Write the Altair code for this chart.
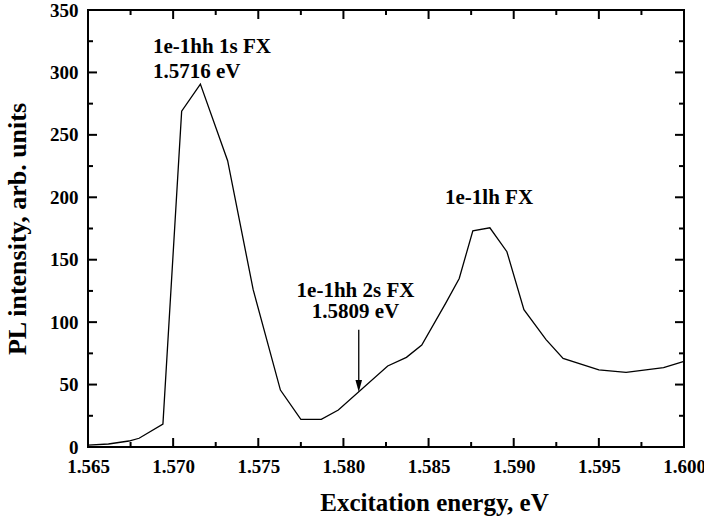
import altair as alt
import pandas as pd

# Photoluminescence excitation spectrum
energy = [1.5650, 1.5662, 1.5669, 1.5674, 1.5680, 1.5694, 1.5705, 1.5716,
          1.5732, 1.5747, 1.5763, 1.5775, 1.5787, 1.5797, 1.5826, 1.5837,
          1.5846, 1.5860, 1.5868, 1.5876, 1.5886, 1.5896, 1.5906, 1.5919,
          1.5929, 1.5950, 1.5966, 1.5988, 1.6000]
intensity = [1.5, 2.4, 3.8, 4.8, 7.0, 18.4, 269.0, 290.7,
             229.3, 126.0, 45.6, 22.2, 22.2, 29.6, 64.9, 71.8,
             81.7, 115.0, 135.0, 173.2, 175.6, 156.4, 110.0, 86.0,
             71.0, 61.7, 59.8, 63.5, 68.5]

# Tick values
x_major = [1.565, 1.570, 1.575, 1.580, 1.585, 1.590, 1.595, 1.600]
x_minor = [1.5675, 1.5725, 1.5775, 1.5825, 1.5875, 1.5925, 1.5975]
y_major = [0, 50, 100, 150, 200, 250, 300, 350]
y_minor = [25, 75, 125, 175, 225, 275, 325]

# Peak annotations
note_text = ["1e-1hh 1s FX", "1.5716 eV", "1e-1hh 2s FX", "1.5809 eV", "1e-1lh FX"]
note_x = [1.56882, 1.56882, 1.58071, 1.58071, 1.58855]
note_y = [315.6, 295.5, 120.4, 103.3, 194.6]
note_align = ["left", "left", "center", "center", "center"]

# Arrow marking the 2s exciton
arrow_x = [1.5809]
arrow_top = [94.0]
arrow_tip = [44.0]

spectrum = pd.DataFrame({"energy": energy, "intensity": intensity})
notes = pd.DataFrame({"text": note_text, "x": note_x, "y": note_y, "align": note_align})
arrow = pd.DataFrame({"x": arrow_x, "top": arrow_top, "tip": arrow_tip,
                      "shaft_end": [arrow_tip[0] + 8.0]})

FONT = "Liberation Serif"
W, H = 596, 437
MAJOR, MINOR = 9, 5

x_scale = alt.Scale(domain=[1.565, 1.600], nice=False, zero=False)
y_scale = alt.Scale(domain=[0, 350], nice=False, zero=False)

label_style = dict(labelFont=FONT, labelFontSize=19, labelFontWeight="bold",
                   labelColor="black", labelOverlap=False, labelFlush=False)
title_style = dict(titleFont=FONT, titleFontWeight="bold", titleColor="black")

x_axis = alt.Axis(orient="bottom", values=x_major, format=".3f", grid=False,
                  domain=False, ticks=False, labelPadding=10,
                  title="Excitation energy, eV", titleFontSize=25,
                  titleX=346, titleY=63, titleAlign="center",
                  titleBaseline="alphabetic",
                  **label_style, **title_style)
y_axis = alt.Axis(orient="left", values=y_major, format="d", grid=False,
                  domain=False, ticks=False, labelPadding=10,
                  title="PL intensity, arb. units", titleFontSize=26,
                  titlePadding=19,
                  **label_style, **title_style)

line = alt.Chart(spectrum).mark_line(color="black", strokeWidth=1.3).encode(
    x=alt.X("energy:Q", scale=x_scale, axis=x_axis),
    y=alt.Y("intensity:Q", scale=y_scale, axis=y_axis),
)


# Inward-pointing tick marks on all four sides of the frame
def x_ticks(values, length, side):
    edge = H if side == "bottom" else 0
    inner = H - length if side == "bottom" else length
    return alt.Chart(pd.DataFrame({"v": values})).mark_rule(
        color="black", strokeWidth=2
    ).encode(
        x=alt.X("v:Q", scale=x_scale, axis=None),
        y=alt.value(edge), y2=alt.value(inner),
    )


def y_ticks(values, length, side):
    edge = 0 if side == "left" else W
    inner = length if side == "left" else W - length
    return alt.Chart(pd.DataFrame({"v": values})).mark_rule(
        color="black", strokeWidth=2
    ).encode(
        y=alt.Y("v:Q", scale=y_scale, axis=None),
        x=alt.value(edge), x2=alt.value(inner),
    )


ticks = [
    x_ticks(x_major, MAJOR, "bottom"), x_ticks(x_minor, MINOR, "bottom"),
    x_ticks(x_major, MAJOR, "top"), x_ticks(x_minor, MINOR, "top"),
    y_ticks(y_major, MAJOR, "left"), y_ticks(y_minor, MINOR, "left"),
    y_ticks(y_major, MAJOR, "right"), y_ticks(y_minor, MINOR, "right"),
]


def note_layer(align):
    return alt.Chart(notes).transform_filter(alt.datum.align == align).mark_text(
        font=FONT, fontSize=21, fontWeight="bold", color="black",
        baseline="alphabetic", align=align
    ).encode(
        x=alt.X("x:Q", scale=x_scale, axis=None),
        y=alt.Y("y:Q", scale=y_scale, axis=None),
        text="text:N",
    )


shaft = alt.Chart(arrow).mark_rule(color="black", strokeWidth=1.3).encode(
    x=alt.X("x:Q", scale=x_scale, axis=None),
    y=alt.Y("top:Q", scale=y_scale, axis=None),
    y2="shaft_end:Q",
)
head = alt.Chart(arrow).mark_point(
    shape="M-0.55,-2L0.55,-2L0,0Z", size=144, filled=True, color="black", opacity=1
).encode(
    x=alt.X("x:Q", scale=x_scale, axis=None),
    y=alt.Y("tip:Q", scale=y_scale, axis=None),
)

chart = alt.layer(
    line, *ticks, note_layer("left"), note_layer("center"), shaft, head
).resolve_axis(
    x="independent", y="independent"
).properties(
    width=W, height=H,
    autosize=alt.AutoSizeParams(type="none"),
    padding={"left": 88, "top": 10, "right": 20, "bottom": 82},
    background="white",
).configure_view(
    stroke="black", strokeWidth=2
)

chart.save("out.html", embed_options={"renderer": "svg", "actions": False})
